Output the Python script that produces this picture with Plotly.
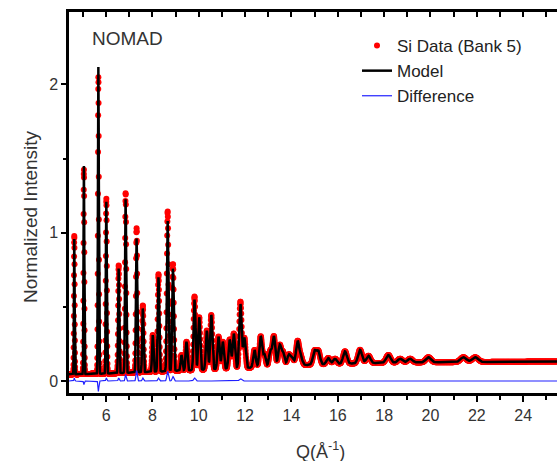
import numpy as np
import plotly.graph_objects as go

# ---- data ----
# Bragg peak positions (Q, 1/Angstrom) and peak-top heights of the model curve
peak_q = [4.628, 5.043, 5.668, 6.011, 6.544, 6.844, 7.317, 7.586, 8.015, 8.262,
          8.657, 8.886, 9.255, 9.470, 9.817, 10.019, 10.348, 10.540, 10.853, 11.036,
          11.335, 11.511, 11.798, 11.967, 12.406, 12.673, 12.831, 13.089, 13.241, 13.492,
          13.640, 13.883, 14.027, 14.263, 14.403, 14.995, 15.160, 15.590, 15.880, 16.310,
          16.960, 17.320, 18.180, 18.690, 19.120, 19.910, 21.420, 21.930]
peak_top = [0.96, 1.45, 2.12, 1.21, 0.76, 1.23, 0.96, 0.49, 0.31, 0.70,
            1.08, 0.76, 0.175, 0.265, 0.55, 0.43, 0.34, 0.445, 0.30, 0.265,
            0.28, 0.32, 0.52, 0.29, 0.21, 0.30, 0.18, 0.20, 0.30, 0.24,
            0.19, 0.175, 0.16, 0.265, 0.16, 0.20, 0.20, 0.155, 0.15, 0.20,
            0.21, 0.17, 0.175, 0.15, 0.15, 0.16, 0.16, 0.16]
# difference (data - model) at the strongest peaks
diff_q = [4.628, 5.043, 5.668, 6.011, 6.544, 6.844, 7.317, 7.586, 8.262, 8.657, 8.886, 9.817, 11.798]
diff_amp = [0.02, -0.025, -0.07, 0.02, 0.02, 0.04, 0.07, 0.02, 0.02, 0.065, 0.03, 0.02, 0.015]
# smooth background under the peaks
bg_q = [4.40, 6.0, 8.0, 10.0, 12.0, 14.0, 16.0, 18.0, 20.0, 25.46]
bg_level = [0.045, 0.05, 0.062, 0.075, 0.088, 0.105, 0.115, 0.122, 0.126, 0.132]

x_tick_vals = [6, 8, 10, 12, 14, 16, 18, 20, 22, 24]
y_tick_vals = [0, 1, 2]

# ---- build curves ----
q = np.geomspace(4.40, 25.46, 2200)
bg = np.interp(q, bg_q, bg_level)


def profile(center):
    sigma = 0.0025 * center + 0.00015 * center ** 2
    return np.exp(-0.5 * ((q - center) / sigma) ** 2)


model = bg.copy()
for c, t in zip(peak_q, peak_top):
    model += (t - np.interp(c, bg_q, bg_level)) * profile(c)
diff = np.zeros_like(q)
for c, a in zip(diff_q, diff_amp):
    diff += a * profile(c)
data = model + diff

FONT = "Liberation Sans, Arial, sans-serif"
TXT = "#333333"

fig = go.Figure()
fig.add_trace(go.Scatter(x=q, y=data, mode="markers", name="Si Data (Bank 5)",
                         marker=dict(color="#ff0000", size=6, line=dict(width=0))))
fig.add_trace(go.Scatter(x=q, y=model, mode="lines", name="Model",
                         line=dict(color="black", width=2.5)))
fig.add_trace(go.Scatter(x=q, y=diff, mode="lines", name="Difference",
                         line=dict(color="#2020ff", width=1.2)))

fig.update_layout(
    width=557, height=461, autosize=False,
    margin=dict(l=69, r=0, t=12, b=68),
    paper_bgcolor="white", plot_bgcolor="white",
    font=dict(family=FONT, color=TXT, size=16),
    showlegend=True,
    legend=dict(x=(357 - 69) / 488, y=(393 - 28) / 381, xanchor="left", yanchor="top",
                bgcolor="rgba(0,0,0,0)", font=dict(size=17, color="#222222"),
                itemsizing="trace", tracegroupgap=0),
    xaxis=dict(range=[4.40, 25.46], showgrid=False, zeroline=False,
               showline=True, linecolor="black", linewidth=2.5,
               ticks="outside", ticklen=6, tickwidth=2, tickcolor="black",
               tickvals=x_tick_vals, tickfont=dict(size=16, color=TXT),
               minor=dict(dtick=1, tick0=5, ticks="outside", ticklen=4, tickwidth=2, tickcolor="black")),
    xaxis2=dict(range=[4.40, 25.46], overlaying="x", side="top", anchor="y",
                showgrid=False, zeroline=False, showline=True, linecolor="black", linewidth=2.5,
                ticks="inside", ticklen=5, tickwidth=2, tickcolor="black",
                tickvals=list(range(5, 26)), showticklabels=False),
    yaxis=dict(range=[-0.081, 2.488], showgrid=False, zeroline=False,
               showline=True, linecolor="black", linewidth=2.5,
               ticks="outside", ticklen=5, tickwidth=2, tickcolor="black",
               tickvals=y_tick_vals, tickfont=dict(size=16, color=TXT),
               minor=dict(dtick=0.5, tick0=0, ticks="outside", ticklen=3, tickwidth=2, tickcolor="black")),
    annotations=[
        dict(text="NOMAD", x=(127 - 69) / 488, y=(393 - 39) / 381, xref="paper", yref="paper",
             xanchor="center", yanchor="middle", showarrow=False, font=dict(size=19, color=TXT)),
        dict(text="Q(Å<sup>-1</sup>)", x=(320 - 69) / 488, y=(393 - 450) / 381, xref="paper", yref="paper",
             xanchor="center", yanchor="middle", showarrow=False, font=dict(size=18, color=TXT)),
        dict(text="Normalized Intensity", x=(30 - 69) / 488, y=(393 - 217) / 381, xref="paper", yref="paper",
             xanchor="center", yanchor="middle", textangle=-90, showarrow=False,
             font=dict(size=19, color=TXT)),
    ],
)
# invisible helper so the top (mirror) axis is drawn
fig.add_trace(go.Scatter(x=[None], y=[None], xaxis="x2", yaxis="y", showlegend=False, hoverinfo="skip"))

fig.write_html("out.html")
